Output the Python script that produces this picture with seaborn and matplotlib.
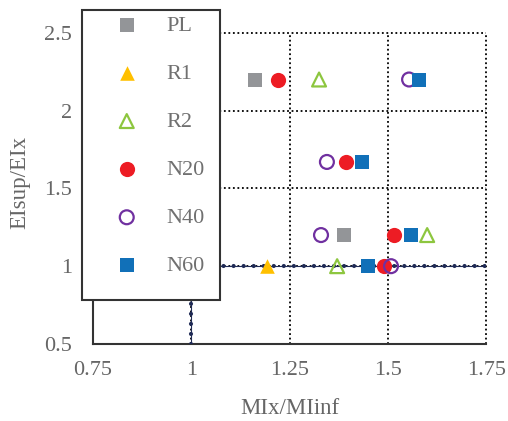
import numpy as np
import pandas as pd
import matplotlib
matplotlib.use("Agg")
import matplotlib.pyplot as plt
from matplotlib.patches import Rectangle
import seaborn as sns

sns.set_style("white")
plt.rcParams["font.family"] = ["Liberation Serif", "DejaVu Serif"]

# ---- data ----
series = ["PL", "R1", "R2", "N20", "N40", "N60"]
pl_x = [1.162, 1.389]
pl_y = [2.2, 1.2]
r1_x = [1.193]
r1_y = [1.0]
r2_x = [1.325, 1.371, 1.600]
r2_y = [2.2, 1.0, 1.2]
n20_x = [1.221, 1.394, 1.516, 1.490]
n20_y = [2.2, 1.67, 1.2, 1.0]
n40_x = [1.554, 1.345, 1.330, 1.508]
n40_y = [2.2, 1.67, 1.2, 1.0]
n60_x = [1.580, 1.434, 1.559, 1.450]
n60_y = [2.2, 1.67, 1.2, 1.0]

xs = [pl_x, r1_x, r2_x, n20_x, n40_x, n60_x]
ys = [pl_y, r1_y, r2_y, n20_y, n40_y, n60_y]

xticks = [0.75, 1, 1.25, 1.5, 1.75]
xtick_labels = ["0.75", "1", "1.25", "1.5", "1.75"]
yticks = [0.5, 1, 1.5, 2, 2.5]
ytick_labels = ["0.5", "1", "1.5", "2", "2.5"]

# marker styles: (marker, colour, filled, size)
styles = {
    "PL": ("s", "#939598", True, 100),
    "R1": ("^", "#FFC000", True, 110),
    "R2": ("^", "#8DC63F", False, 100),
    "N20": ("o", "#ED1C24", True, 120),
    "N40": ("o", "#7030A0", False, 100),
    "N60": ("s", "#1170B8", True, 100),
}

text_col = "#666666"
navy = "#1F2A55"

fig = plt.figure(figsize=(5.08, 4.21), dpi=100)
ax = fig.add_axes([0.183, 0.183, 0.774, 0.739])

for name, x, y in zip(series, xs, ys):
    m, c, filled, s = styles[name]
    df = pd.DataFrame({"x": x, "y": y})
    if filled:
        sns.scatterplot(data=df, x="x", y="y", marker=m, color=c, s=s,
                        edgecolor=c, linewidth=0, label=name, ax=ax, zorder=4)
    else:
        sns.scatterplot(data=df, x="x", y="y", marker=m, s=s,
                        facecolor="none", edgecolor=c, linewidth=1.6,
                        label=name, ax=ax, zorder=4)

# reference lines at 1
ax.axhline(1, color=navy, lw=0.8, zorder=3)
ax.axhline(1, color=navy, lw=3, linestyle=(0, (0.01, 2.4)),
           dash_capstyle="round", zorder=3)
ax.vlines(1, 0.5, 1, color=navy, lw=0.8, zorder=3)
ax.vlines(1, 0.5, 1, color=navy, lw=3, linestyle=(0, (0.01, 2.4)),
          capstyle="round", zorder=3)

ax.set_xlim(0.75, 1.75)
ax.set_ylim(0.5, 2.5)
ax.set_xticks(xticks)
ax.set_xticklabels(xtick_labels)
ax.set_yticks(yticks)
ax.set_yticklabels(ytick_labels)
ax.grid(True, linestyle=(0, (1, 1.5)), color="black", lw=1.3, zorder=1)
for gl in ax.get_xgridlines() + ax.get_ygridlines():
    gl.set_clip_on(False)
ax.set_axisbelow(True)

for side in ["top", "right"]:
    ax.spines[side].set_visible(False)
for side in ["left", "bottom"]:
    ax.spines[side].set_color("#333333")
    ax.spines[side].set_linewidth(1.5)
    ax.spines[side].set_zorder(2)

ax.tick_params(axis="both", length=0, labelsize=16, colors=text_col)
ax.tick_params(axis="y", pad=15)
ax.tick_params(axis="x", pad=12)
ax.set_xlabel("MIx/MIinf", fontsize=16.5, color=text_col, labelpad=13)
ax.set_ylabel("EIsup/EIx", fontsize=16.5, color=text_col, labelpad=9)
ax.yaxis.set_label_coords(-0.16, 0.52)

# legend box
box = Rectangle((-0.028, 0.1415), 0.351, 0.932, transform=ax.transAxes,
                facecolor="white", edgecolor="#333333", lw=1.5,
                clip_on=False, zorder=5)
ax.add_patch(box)
leg = ax.legend(loc="upper left", bbox_to_anchor=(0.052, 1.057),
                frameon=False, fontsize=16, labelcolor="#707070",
                borderpad=0, borderaxespad=0, handlelength=1.2,
                handletextpad=1.2, labelspacing=1.24)
leg.set_zorder(6)

fig.savefig("out.png", dpi=100)
